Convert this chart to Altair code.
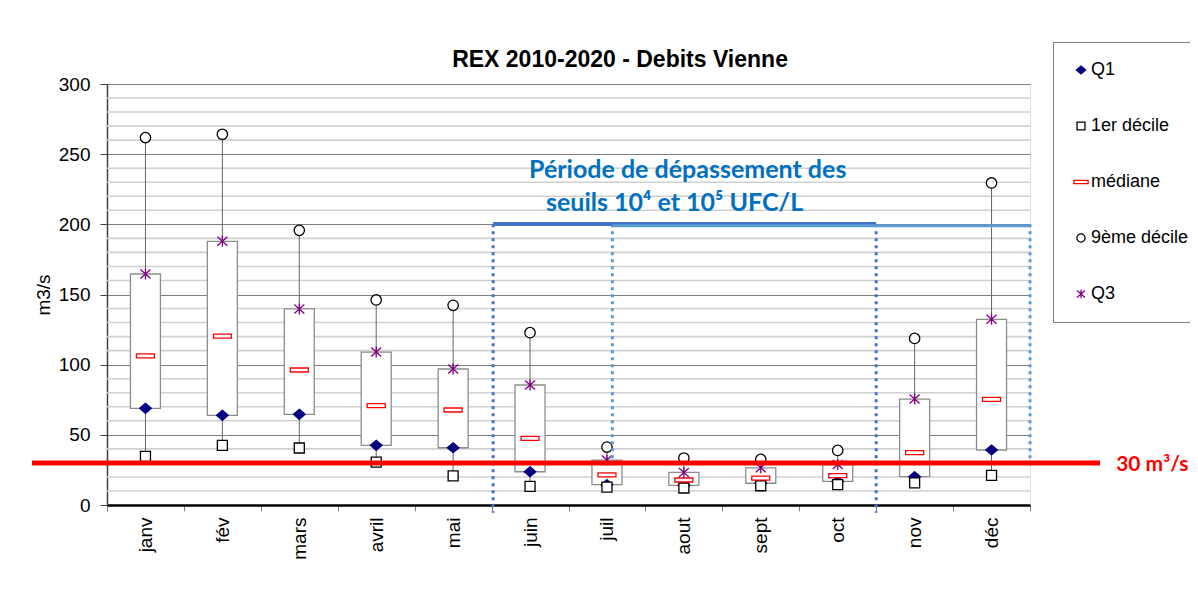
import altair as alt
import pandas as pd

# ---- data ----
months = ["janv", "fév", "mars", "avril", "mai", "juin", "juil", "aout", "sept", "oct", "nov", "déc"]
q1 = [68.9, 63.9, 64.6, 42.5, 40.8, 23.7, 14.5, 14.0, 15.5, 16.8, 20.2, 39.2]
d1 = [34.7, 42.5, 40.6, 30.6, 20.7, 13.3, 12.8, 12.1, 13.7, 14.5, 15.7, 21.1]
med = [106.2, 120.4, 96.2, 70.8, 67.7, 47.5, 21.4, 17.8, 19.2, 20.9, 37.3, 75.3]
d9 = [261.8, 264.2, 195.7, 146.1, 142.3, 122.8, 41.3, 33.5, 32.5, 38.9, 118.7, 229.5]
q3 = [164.6, 187.9, 139.7, 109.0, 96.9, 85.5, 32.0, 23.2, 26.5, 28.8, 75.5, 132.3]

stats = ["Q1", "1er décile", "médiane", "9ème décile", "Q3"]
seuil = 30
minor_grid = [v for v in range(10, 300, 10) if v % 50]

title_text = "REX 2010-2020 - Debits Vienne"
period_lines = ["Période de dépassement des", "seuils 10⁴ et 10⁵ UFC/L"]
seuil_text = "30 m³/s"

wide = pd.DataFrame({"mois": months, "q1": q1, "d1": d1, "med": med, "d9": d9, "q3": q3})
series = {"Q1": q1, "1er décile": d1, "médiane": med, "9ème décile": d9, "Q3": q3}
long = pd.DataFrame(
    [{"mois": m, "stat": s, "val": v} for s in stats for m, v in zip(months, series[s])]
)

FONT = "Liberation Sans"
YSCALE = alt.Scale(domain=[0, 300], nice=False)
XQ = alt.Scale(domain=[0, 12], nice=False, zero=False)

shapes = [
    "M0,-0.5L0.58,0L0,0.5L-0.58,0Z",
    "M-0.5,-0.5L0.5,-0.5L0.5,0.5L-0.5,0.5Z",
    "M-0.9,-0.2L0.9,-0.2L0.9,0.2L-0.9,0.2Z",
    "M0.52,0A0.52,0.52,0,1,1,-0.52,0A0.52,0.52,0,1,1,0.52,0Z",
    "M-0.5,-0.45L0.5,0.45M0.5,-0.45L-0.5,0.45M0,-0.55L0,0.55",
]
strokes = ["#000080", "#000000", "#FF0000", "#000000", "#800080"]
fills = ["#000080", "#FFFFFF", "#FFFFFF", "#FFFFFF", "transparent"]

leg = alt.Legend(
    title=None, orient="none", legendX=946, legendY=-42,
    fillColor="white", strokeColor="#808080", padding=19,
    labelFont=FONT, labelFontSize=18, labelColor="black", labelOffset=1,
    symbolSize=250, symbolStrokeWidth=1.3, symbolOpacity=1, rowPadding=38,
)

xband = alt.X(
    "mois:N", sort=months,
    scale=alt.Scale(domain=months, paddingInner=0, paddingOuter=0),
    axis=alt.Axis(
        title=None, labelAngle=-90, labelFont=FONT, labelFontSize=19, labelColor="black",
        tickBand="extent", tickSize=6, tickColor="#808080", domainColor="black",
        domainWidth=2.5, labelPadding=6, grid=False,
    ),
)
yaxis = alt.Axis(
    values=list(range(0, 301, 50)), title="m3/s", titleFont=FONT, titleFontSize=19,
    titleFontWeight="normal", titleColor="black", titlePadding=5,
    labelFont=FONT, labelFontSize=19, labelColor="black", labelPadding=10,
    grid=True, gridColor="#808080", gridWidth=1, tickSize=7, tickColor="#404040",
    domainColor="#404040", domainWidth=1.5,
)

grid = alt.Chart(pd.DataFrame({"g": minor_grid})).mark_rule(
    color="#d0d0d0", strokeWidth=1.6
).encode(y=alt.Y("g:Q", scale=YSCALE, axis=yaxis))

whisk = alt.Chart(wide).mark_rule(color="#666666", strokeWidth=1).encode(
    x=xband, y=alt.Y("d1:Q", scale=YSCALE), y2="d9:Q"
)
box = alt.Chart(wide).mark_bar(size=30, fill="white", stroke="#8c8c8c", strokeWidth=1.3).encode(
    x=xband, y=alt.Y("q1:Q", scale=YSCALE), y2="q3:Q"
)
pts = alt.Chart(long).mark_point(size=400, strokeWidth=1.3, opacity=1, filled=False).encode(
    x=xband,
    y=alt.Y("val:Q", scale=YSCALE),
    shape=alt.Shape("stat:N", scale=alt.Scale(domain=stats, range=shapes), legend=leg),
    stroke=alt.Stroke("stat:N", scale=alt.Scale(domain=stats, range=strokes), legend=leg),
    fill=alt.Fill("stat:N", scale=alt.Scale(domain=stats, range=fills), legend=leg),
)

data_layer = alt.layer(grid, whisk, box, pts)

# ---- annotations (drawn shapes of the original) ----
vlines = pd.DataFrame({
    "x": [5.02, 10.0, 6.57, 12.0],
    "y": [200, 200, 200, 200],
    "y2": [-5.5, -5.5, 28, 28],
    "c": ["dark", "dark", "light", "light"],
})
hlines = pd.DataFrame({
    "x": [5.02, 6.57], "x2": [10.0, 12.0], "y": [200.3, 199.0], "c": ["dark", "light"],
})
bluec = alt.Scale(domain=["dark", "light"], range=["#4472C4", "#5B9BD5"])

vr = alt.Chart(vlines).mark_rule(strokeWidth=3, strokeDash=[3, 4], strokeCap="butt").encode(
    x=alt.X("x:Q", scale=XQ, axis=None), y=alt.Y("y:Q", scale=YSCALE), y2="y2:Q",
    color=alt.Color("c:N", scale=bluec, legend=None),
)
hr_dark = alt.Chart(hlines.iloc[[0]]).mark_rule(strokeWidth=4).encode(
    x=alt.X("x:Q", scale=XQ, axis=None), x2="x2:Q", y=alt.Y("y:Q", scale=YSCALE),
    color=alt.Color("c:N", scale=bluec, legend=None),
)
hr_light = alt.Chart(hlines.iloc[[1]]).mark_rule(strokeWidth=3).encode(
    x=alt.X("x:Q", scale=XQ, axis=None), x2="x2:Q", y=alt.Y("y:Q", scale=YSCALE),
    color=alt.Color("c:N", scale=bluec, legend=None),
)
red = alt.Chart(pd.DataFrame({"x": [-0.975], "x2": [12.91], "y": [seuil]})).mark_rule(
    color="#FF0000", strokeWidth=5
).encode(x=alt.X("x:Q", scale=XQ, axis=None), x2="x2:Q", y=alt.Y("y:Q", scale=YSCALE))

red_lbl = alt.Chart(pd.DataFrame({"x": [13.12], "y": [23.9], "t": [seuil_text]})).mark_text(
    font="Lato", fontSize=21, fontWeight="bold", color="#FF0000", align="left", baseline="alphabetic"
).encode(x=alt.X("x:Q", scale=XQ, axis=None), y=alt.Y("y:Q", scale=YSCALE), text="t:N")

per_lbl = alt.Chart(pd.DataFrame({
    "x": [7.55, 7.38], "y": [233.1, 209.3], "t": period_lines,
})).mark_text(
    font="Lato", fontSize=25, fontWeight="bold", color="#0070C0", align="center", baseline="alphabetic"
).encode(x=alt.X("x:Q", scale=XQ, axis=None), y=alt.Y("y:Q", scale=YSCALE), text="t:N")

title_lbl = alt.Chart(pd.DataFrame({"x": [6.67], "y": [312.4], "t": [title_text]})).mark_text(
    font=FONT, fontSize=23, fontWeight="bold", color="black", align="center", baseline="alphabetic"
).encode(x=alt.X("x:Q", scale=XQ, axis=None), y=alt.Y("y:Q", scale=YSCALE), text="t:N")

annot = alt.layer(vr, hr_dark, hr_light, red, red_lbl, per_lbl, title_lbl)

chart = alt.layer(data_layer, annot).resolve_scale(x="independent", color="independent").properties(
    width=923, height=421,
    padding={"left": 99, "top": 76, "right": 160, "bottom": 76},
    autosize=alt.AutoSizeParams(type="none"),
).configure_view(stroke="#808080", strokeWidth=1).configure(background="white")

chart.save("out.html", embed_options={"renderer": "svg", "actions": False})
